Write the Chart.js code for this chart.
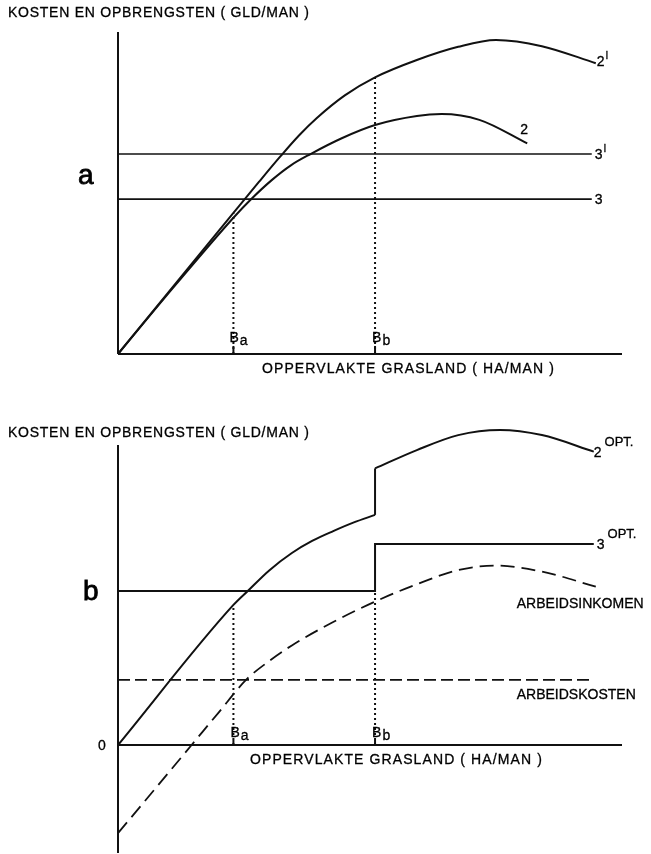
<!DOCTYPE html>
<html>
<head>
<meta charset="utf-8">
<script src="https://cdn.jsdelivr.net/npm/chart.js@4.4.1/dist/chart.umd.min.js"></script>
<style>
  body { margin: 0; background: #fff; width: 651px; height: 854px; position: relative; overflow: hidden;
         font-family: "Liberation Sans", Arial, sans-serif; color: #000; }
  canvas { position: absolute; left: 0; }
  .t { position: absolute; white-space: nowrap; line-height: 1; font-size: 14px; transform: translateY(-50%);
       -webkit-text-stroke: 0.3px #000; }
  .title { letter-spacing: 0.75px; }
  .axis { letter-spacing: 1.1px; }
  .big { font-size: 28px; -webkit-text-stroke: 0.8px #000; }
  .sup { font-size: 10px; position: relative; top: -7px; margin-left: 1px; }
  .opt { font-size: 13px; position: relative; top: -11px; margin-left: 3px; }
  .sub { position: relative; top: 3px; margin-left: 1px; }
</style>
</head>
<body>
<canvas id="chartA" width="651" height="390" style="top:0"></canvas>
<canvas id="chartB" width="651" height="464" style="top:390px"></canvas>
<script>
// break points on the area axis
const xBa = 22.9;
const xBb = 51.0;

// panel a : [area, value]
const aCurve2Prime = [[0, 0], [22.9, 43.8], [28.0, 53.5], [32.3, 61.5], [36.0, 68.0], [39.4, 73.2], [45.0, 80.3],
  [51.0, 85.9], [59.3, 91.3], [67.5, 95.4], [75.0, 97.5], [84.1, 95.6], [94.8, 90.3]];
const aCurve2 = [[0, 0], [11.5, 21.6], [22.9, 42.3], [26.3, 47.9], [30.5, 54.0], [34.3, 58.6], [38.2, 62.1],
  [44.4, 67.0], [51.0, 71.1], [59.3, 73.9], [64.2, 74.5], [71.7, 72.7], [81.2, 65.4]];
const aLine3Prime = [[0, 62.1], [94.0, 62.1]];
const aLine3 = [[0, 48.1], [94.0, 48.1]];

// panel b
const bOpt2Left = [[0, 0], [22.9, 46.7], [25.9, 51.6], [30.0, 58.2], [34.5, 64.0], [38.6, 68.1], [42.7, 71.3],
  [46.8, 74.2], [51.0, 76.7]];
const bOpt2Jump = [[51.0, 76.7], [51.0, 92.2]];
const bOpt2Right = [[51.0, 92.2], [59.3, 98.3], [67.5, 103.3], [75.8, 105.0], [84.1, 103.3], [94.4, 97.8]];
const bOpt3 = [[0, 51.3], [51.0, 51.3], [51.0, 67.0], [94.4, 67.0]];
const bIncome = [[0, -29.4], [14.6, 0], [20.0, 10.9], [25.4, 21.7], [30.0, 28.0], [34.5, 33.2], [42.7, 41.0],
  [51.0, 47.8], [59.3, 53.6], [67.5, 58.3], [75.0, 59.8], [84.1, 57.8], [94.8, 52.8]];
const bCosts = [[0, 21.7], [94.0, 21.7]];

const INK = "#111";

function seg(data, extra) {
  return Object.assign({ data: data, borderColor: INK, borderWidth: 2, pointRadius: 0, clip: false,
    tension: 0, fill: false }, extra || {});
}
const curve = { cubicInterpolationMode: "monotone" };
const dotted = { borderDash: [2, 3], borderWidth: 2 };

function options(yMin, yMax, pad) {
  return {
    responsive: false,
    animation: false,
    events: [],
    layout: { padding: pad },
    plugins: { legend: { display: false }, tooltip: { enabled: false } },
    scales: {
      x: { type: "linear", min: 0, max: 100, display: false },
      y: { type: "linear", min: yMin, max: yMax, display: false },
    },
  };
}

const chartA = new Chart(document.getElementById("chartA"), {
  type: "line",
  data: {
    datasets: [
      seg([[0, 0], [0, 100]]),
      seg([[0, 0], [100, 0]]),
      seg(aLine3Prime, { borderWidth: 1.6 }),
      seg(aLine3, { borderWidth: 1.6 }),
      seg(aCurve2Prime, curve),
      seg(aCurve2, curve),
      seg([[xBa, 0], [xBa, aCurve2Prime[1][1]]], dotted),
      seg([[xBb, 0], [xBb, 85.9]], dotted),
      seg([[xBa, 0], [xBa, 2.5]]),
      seg([[xBb, 0], [xBb, 2.5]]),
    ],
  },
  options: options(0, 100, { left: 118, right: 29, top: 32, bottom: 36 }),
});

const chartB = new Chart(document.getElementById("chartB"), {
  type: "line",
  data: {
    datasets: [
      seg([[0, -36], [0, 100]]),
      seg([[0, 0], [100, 0]]),
      seg(bOpt2Left, curve),
      seg(bOpt2Jump),
      seg(bOpt2Right, curve),
      seg(bOpt3),
      seg(bIncome, Object.assign({ borderDash: [14, 7], borderWidth: 1.8 }, curve)),
      seg(bCosts, { borderDash: [12, 5], borderWidth: 1.8 }),
      seg([[xBa, 0], [xBa, bOpt2Left[1][1]]], dotted),
      seg([[xBb, 0], [xBb, bOpt3[1][1]]], dotted),
      seg([[xBa, 0], [xBa, 1.7]]),
      seg([[xBb, 0], [xBb, 1.7]]),
    ],
  },
  options: options(-36, 110, { left: 118, right: 29, top: 25, bottom: 1 }),
});

// text labels, anchored on a data point plus a small pixel offset
function place(chart, html, pt, dx, dy, cls) {
  const el = document.createElement("div");
  el.className = "t " + (cls || "");
  el.innerHTML = html;
  el.style.left = (chart.canvas.offsetLeft + chart.scales.x.getPixelForValue(pt[0]) + dx) + "px";
  el.style.top = (chart.canvas.offsetTop + chart.scales.y.getPixelForValue(pt[1]) + dy) + "px";
  document.body.appendChild(el);
}
const last = (arr) => arr[arr.length - 1];

place(chartA, "KOSTEN EN OPBRENGSTEN ( GLD/MAN )", [0, 100], -110, -20, "title");
place(chartA, "a", [0, 0], -40, -179, "big");
place(chartA, "OPPERVLAKTE GRASLAND ( HA/MAN )", [0, 0], 144, 14, "axis");
place(chartA, '2<span class="sup">I</span>', last(aCurve2Prime), 1, -2);
place(chartA, "2", last(aCurve2), -7, -14);
place(chartA, '3<span class="sup">I</span>', last(aLine3Prime), 3, 0);
place(chartA, "3", last(aLine3), 3, 0);
place(chartA, 'B<span class="sub">a</span>', [xBa, 0], -4, -17);
place(chartA, 'B<span class="sub">b</span>', [xBb, 0], -3, -17);

place(chartB, "KOSTEN EN OPBRENGSTEN ( GLD/MAN )", [0, 100], -110, -13, "title");
place(chartB, "b", [0, 0], -35, -154, "big");
place(chartB, "0", [0, 0], -20, 0);
place(chartB, "OPPERVLAKTE GRASLAND ( HA/MAN )", [0, 0], 132, 14, "axis");
place(chartB, '2<span class="opt">OPT.</span>', last(bOpt2Right), 0, 0);
place(chartB, '3<span class="opt">OPT.</span>', last(bOpt3), 3, 0);
place(chartB, "ARBEIDSINKOMEN", last(bIncome), -79, 16);
place(chartB, "ARBEIDSKOSTEN", last(bCosts), -75, 14);
place(chartB, 'B<span class="sub">a</span>', [xBa, 0], -3, -13);
place(chartB, 'B<span class="sub">b</span>', [xBb, 0], -3, -13);
</script>
</body>
</html>
